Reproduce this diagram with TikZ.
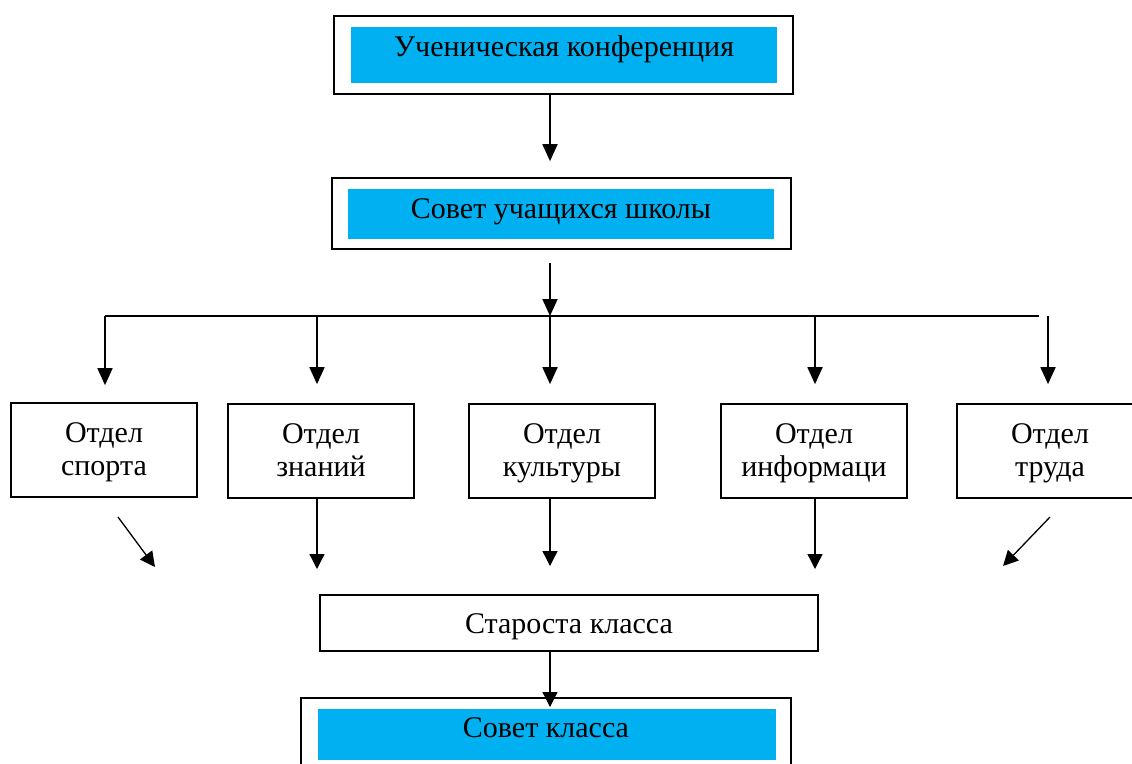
\documentclass[tikz,border=0pt]{standalone}
\usepackage{fontspec}
\setmainfont{Liberation Serif}
\usetikzlibrary{arrows.meta,calc}
\definecolor{skyfill}{RGB}{0,176,240}
\newcommand{\toprule}{\rule{0pt}{27pt}}
\begin{document}
\begin{tikzpicture}[x=1pt,y=-1pt,
  box/.style={draw=black, line width=1.7pt, rectangle, inner sep=0pt, fill=white},
  fillbox/.style={fill=skyfill, draw=none, rectangle, inner sep=0pt},
  lbl/.style={font=\fontsize{30}{33}\selectfont, inner sep=0pt, anchor=base},
  dept/.style={box, minimum width=186pt, minimum height=94pt, align=center,
    font=\fontsize{30}{33}\selectfont},
  arr/.style={line width=1.8pt, -{Triangle[width=15pt,length=17pt]}},
  thinarr/.style={line width=1.3pt, -{Triangle[width=15pt,length=15pt]}},
  plain/.style={line width=1.8pt}
]
\useasboundingbox (0,0) rectangle (1132,763);
\clip (0,0) rectangle (1132,763);

% top: conference
\node[box, minimum width=459pt, minimum height=78pt] (conf) at (563.5,55) {};
\node[fillbox, minimum width=426pt, minimum height=56pt] (confF) at (564,55) {};
\node[lbl] (confT) at (564,56) {Ученическая конференция};

% council
\node[box, minimum width=459pt, minimum height=71pt] (council) at (561.5,213.5) {};
\node[fillbox, minimum width=426pt, minimum height=50pt] (councilF) at (561,214) {};
\node[lbl] (councilT) at (561,218) {Совет учащихся школы};

% departments
\node[dept] (sport) at (104,450) {\toprule Отдел\\спорта\strut};
\node[dept] (know) at (321,451) {\toprule Отдел\\знаний\strut};
\node[dept] (cult) at (562,451) {\toprule Отдел\\культуры\strut};
\node[dept] (info) at (814,451) {\toprule Отдел\\информаци\strut};
\node[dept] (trud) at (1050,451) {\toprule Отдел\\труда\strut};

% class head
\node[box, minimum width=498pt, minimum height=56pt] (staro) at (569,623) {};
\node[lbl] (staroT) at (569,633) {Староста класса};

% class council
\node[box, minimum width=490pt, minimum height=80pt] (sk) at (546,738) {};
\node[fillbox, minimum width=458pt, minimum height=51pt] (skF) at (547,734.5) {};
\node[lbl] (skT) at (546,737) {Совет класса};

% bus coordinates
\coordinate (b1) at (105,316);
\coordinate (b2) at (317,316);
\coordinate (b3) at (550,316);
\coordinate (b4) at (815,316);
\coordinate (b5) at (1048,316);
\coordinate (busR) at (1039,316);

% vertical connectors top
\draw[arr, shorten >=16pt] (conf.south -| b3) -- (council.north -| b3);
\draw[arr, shorten <=13pt] (council.south -| b3) -- (b3);
\draw[plain] (b1) -- (busR);
\draw[arr, shorten >=17pt] (b1) -- (b1 |- sport.north);
\draw[arr, shorten >=19pt] (b2) -- (b2 |- know.north);
\draw[arr, shorten >=19pt] (b3) -- (b3 |- cult.north);
\draw[arr, shorten >=19pt] (b4) -- (b4 |- info.north);
\draw[arr, shorten >=19pt] (b5) -- (b5 |- trud.north);

% lower connectors
\coordinate (k2) at (317,569);
\coordinate (k3) at (550,566);
\coordinate (k4) at (815,569);
\coordinate (d1s) at (118,517);
\coordinate (d1e) at (155,567);
\coordinate (d5s) at (1050,517);
\coordinate (d5e) at (1003,566);
\draw[thinarr] (know.south -| k2) -- (k2);
\draw[thinarr] (cult.south -| k3) -- (k3);
\draw[thinarr] (info.south -| k4) -- (k4);
\draw[thinarr] (d1s) -- (d1e);
\draw[thinarr] (d5s) -- (d5e);

% class head to class council
\coordinate (k6) at (550,707);
\draw[thinarr] (staro.south -| k6) -- (k6);
\end{tikzpicture}
\end{document}
